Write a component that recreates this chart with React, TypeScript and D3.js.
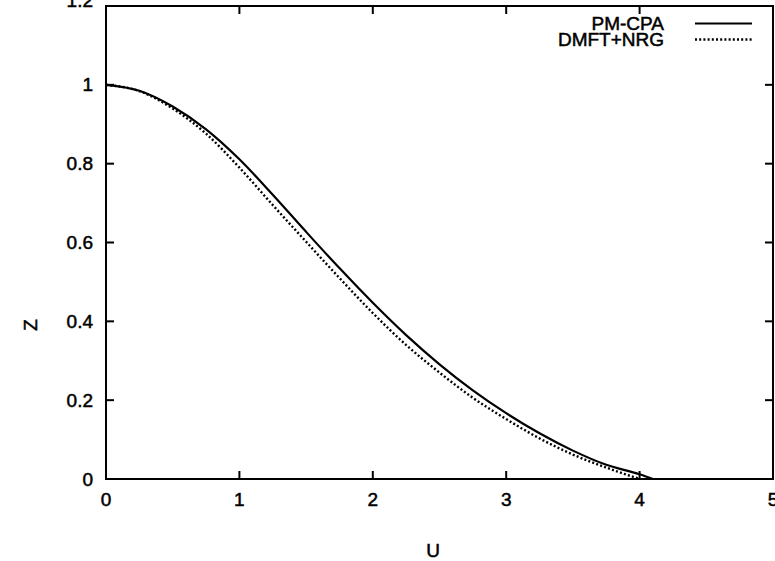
import * as d3 from "d3";
import { useEffect, useRef } from "react";

// U values and quasiparticle weight Z
const cpaU = [0, 0.25, 0.5, 0.75, 1.0, 1.25, 1.5, 1.75, 2.0, 2.25, 2.5, 2.75, 3.0, 3.25, 3.5, 3.75, 4.0, 4.1];
const cpaZ = [1.0, 0.985, 0.945, 0.887, 0.811, 0.721, 0.627, 0.535, 0.447, 0.365, 0.291, 0.225, 0.167, 0.116, 0.072, 0.036, 0.012, 0.0];

const nrgU = [0, 0.25, 0.5, 0.75, 1.0, 1.25, 1.5, 1.75, 2.0, 2.25, 2.5, 2.75, 3.0, 3.25, 3.5, 3.75, 4.0];
const nrgZ = [1.0, 0.984, 0.94, 0.876, 0.79, 0.695, 0.602, 0.51, 0.421, 0.34, 0.27, 0.206, 0.152, 0.103, 0.062, 0.029, 0.0];

const xTicks = [0, 1, 2, 3, 4, 5];
const yTicks = [0, 0.2, 0.4, 0.6, 0.8, 1, 1.2];

const seriesNames = ["PM-CPA", "DMFT+NRG"];

export default function App() {
  const ref = useRef<SVGSVGElement | null>(null);

  useEffect(() => {
    document.body.style.margin = "0";
    const svg = d3.select(ref.current);
    svg.selectAll("*").remove();

    const width = 775;
    const height = 561;
    const left = 106;
    const right = 773;
    const top = 6;
    const bottom = 479;
    const font = "'Liberation Sans', Arial, Helvetica, sans-serif";
    const fs = 19;

    const x = d3.scaleLinear().domain([0, 5]).range([left, right]);
    const y = d3.scaleLinear().domain([0, 1.2]).range([bottom, top]);

    svg.attr("width", width).attr("height", height);

    const g = svg.append("g");

    const addText = (tx: number, ty: number, anchor: string, s: string) =>
      g
        .append("text")
        .attr("x", tx)
        .attr("y", ty)
        .attr("dy", "0.35em")
        .attr("text-anchor", anchor)
        .attr("font-family", font)
        .attr("font-size", fs)
        .attr("fill", "black")
        .attr("stroke", "black")
        .attr("stroke-width", 0.5)
        .text(s);

    // ticks (mirrored on every side)
    const tickLen = 8;
    xTicks.forEach((t) => {
      g.append("line")
        .attr("x1", x(t)).attr("x2", x(t))
        .attr("y1", bottom).attr("y2", bottom - tickLen)
        .attr("stroke", "black").attr("stroke-width", 2);
      g.append("line")
        .attr("x1", x(t)).attr("x2", x(t))
        .attr("y1", top).attr("y2", top + tickLen)
        .attr("stroke", "black").attr("stroke-width", 2);
      addText(x(t), 499, "middle", String(t));
    });

    yTicks.forEach((t, i) => {
      g.append("line")
        .attr("x1", left).attr("x2", left + tickLen)
        .attr("y1", y(t)).attr("y2", y(t))
        .attr("stroke", "black").attr("stroke-width", 2);
      g.append("line")
        .attr("x1", right).attr("x2", right - tickLen)
        .attr("y1", y(t)).attr("y2", y(t))
        .attr("stroke", "black").attr("stroke-width", 2);
      // the top label is clipped by the picture edge in the original
      const shift = i === yTicks.length - 1 ? -6 : 0;
      addText(93, y(t) + shift, "end", d3.format("~g")(t));
    });

    // frame
    g.append("rect")
      .attr("x", left)
      .attr("y", top)
      .attr("width", right - left)
      .attr("height", bottom - top)
      .attr("fill", "none")
      .attr("stroke", "black")
      .attr("stroke-width", 2);

    const line = d3
      .line<[number, number]>()
      .x((d) => x(d[0]))
      .y((d) => y(d[1]))
      .curve(d3.curveMonotoneX);

    const cpa: [number, number][] = cpaU.map((u, i) => [u, cpaZ[i]]);
    const nrg: [number, number][] = nrgU.map((u, i) => [u, nrgZ[i]]);

    g.append("path")
      .attr("d", line(nrg) || "")
      .attr("fill", "none")
      .attr("stroke", "black")
      .attr("stroke-width", 2.4)
      .attr("stroke-dasharray", "2 2.2");

    g.append("path")
      .attr("d", line(cpa) || "")
      .attr("fill", "none")
      .attr("stroke", "black")
      .attr("stroke-width", 2.2);

    // legend
    const legendY = [23.5, 39.5];
    seriesNames.forEach((name, i) => {
      addText(664, legendY[i], "end", name);
      g.append("line")
        .attr("x1", 695).attr("x2", 752)
        .attr("y1", legendY[i]).attr("y2", legendY[i])
        .attr("stroke", "black")
        .attr("stroke-width", i === 0 ? 2.2 : 2.4)
        .attr("stroke-dasharray", i === 0 ? null : "2 2.2");
    });

    // axis labels
    addText(433, 550, "middle", "U");

    g.append("text")
      .attr("transform", "translate(30, 325) rotate(-90)")
      .attr("dy", "0.35em")
      .attr("text-anchor", "middle")
      .attr("font-family", font)
      .attr("font-size", fs)
      .attr("stroke", "black")
      .attr("stroke-width", 0.5)
      .text("Z");
  }, []);

  return <svg ref={ref} style={{ display: "block" }}></svg>;
}
